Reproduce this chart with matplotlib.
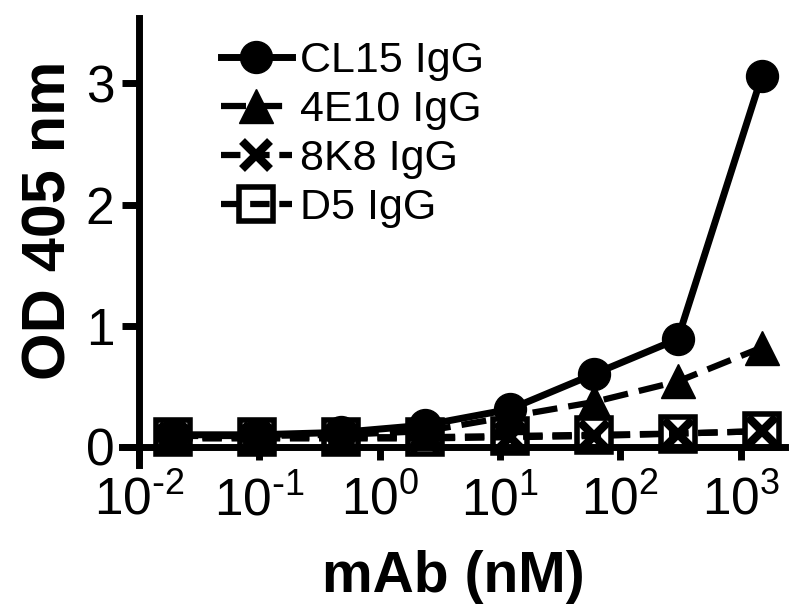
import numpy as np
import matplotlib
matplotlib.use('Agg')
from matplotlib import pyplot as plt

# datos
conc = [0.0192, 0.096, 0.48, 2.4, 12, 60, 300, 1500]
cl15 = [0.10, 0.10, 0.12, 0.18, 0.31, 0.60, 0.89, 3.06]
e4e10 = [0.09, 0.09, 0.10, 0.13, 0.25, 0.37, 0.54, 0.82]
k8k8 = [0.07, 0.07, 0.07, 0.07, 0.08, 0.09, 0.11, 0.13]
d5 = [0.08, 0.08, 0.08, 0.08, 0.09, 0.10, 0.11, 0.13]
etiquetas = ['CL15 IgG', '4E10 IgG', '8K8 IgG', 'D5 IgG']
yticks = [0, 1, 2, 3]
xticks = [1e-2, 1e-1, 1e0, 1e1, 1e2, 1e3]

plt.rcParams['font.family'] = ['Liberation Sans', 'DejaVu Sans']
plt.rcParams['lines.scale_dashes'] = False

fig = plt.figure(figsize=(8, 6.16), dpi=100)
ax = fig.add_axes([0.1525, 0.245, 0.8285, 0.726])

ax.plot(conc, d5, color='black', lw=4.5, dashes=(14, 7), marker='s', ms=25,
        mfc='none', mec='black', mew=4, label=etiquetas[3], zorder=3)
ax.plot(conc, k8k8, color='black', lw=4.5, dashes=(14, 7), marker='x', ms=20,
        mec='black', mew=6, label=etiquetas[2], zorder=4)
ax.plot(conc, e4e10, color='black', lw=4.5, dashes=(18, 8), marker='^', ms=24,
        mfc='black', mec='black', label=etiquetas[1], zorder=5)
ax.plot(conc, cl15, color='black', lw=5, ls='-', marker='o', ms=23,
        mfc='black', mec='black', label=etiquetas[0], zorder=6)

ax.set_xscale('log')
ax.set_xlim(0.0072, 2330)
ax.set_ylim(-0.15, 3.54)
ax.set_yticks(yticks)
ax.set_xticks(xticks)
ax.xaxis.set_minor_locator(matplotlib.ticker.NullLocator())

# exponentes con guion normal, como en la figura original
def fmt_log(v, pos):
    n = int(round(np.log10(v)))
    if n < 0:
        return r'$\mathdefault{10^{\text{-}%d}}$' % (-n)
    return r'$\mathdefault{10^{%d}}$' % n
ax.xaxis.set_major_formatter(matplotlib.ticker.FuncFormatter(fmt_log))

ax.spines['top'].set_visible(False)
ax.spines['right'].set_visible(False)
ax.spines['left'].set_position(('data', 0.01))
ax.spines['bottom'].set_position(('data', 0))
for s in ['left', 'bottom']:
    ax.spines[s].set_linewidth(5)

ax.tick_params(axis='x', direction='out', length=9, width=5, labelsize=37, pad=12)
ax.tick_params(axis='y', direction='out', length=12, width=5, labelsize=37, pad=6)

ax.set_xlabel('mAb (nM)', fontsize=41, fontweight='bold')
ax.set_ylabel('OD 405 nm', fontsize=44, fontweight='bold')
ax.xaxis.set_label_coords(0.5, -0.19)
ax.yaxis.set_label_coords(-0.066, 0.548)

h, l = ax.get_legend_handles_labels()
ax.legend(h[::-1], l[::-1], loc='upper left', bbox_to_anchor=(0.249, 0.968),
          bbox_transform=fig.transFigure, frameon=False, fontsize=31,
          handlelength=1.65, handletextpad=0.2, labelspacing=0.21, borderpad=0)

fig.savefig('out.png', dpi=100)
